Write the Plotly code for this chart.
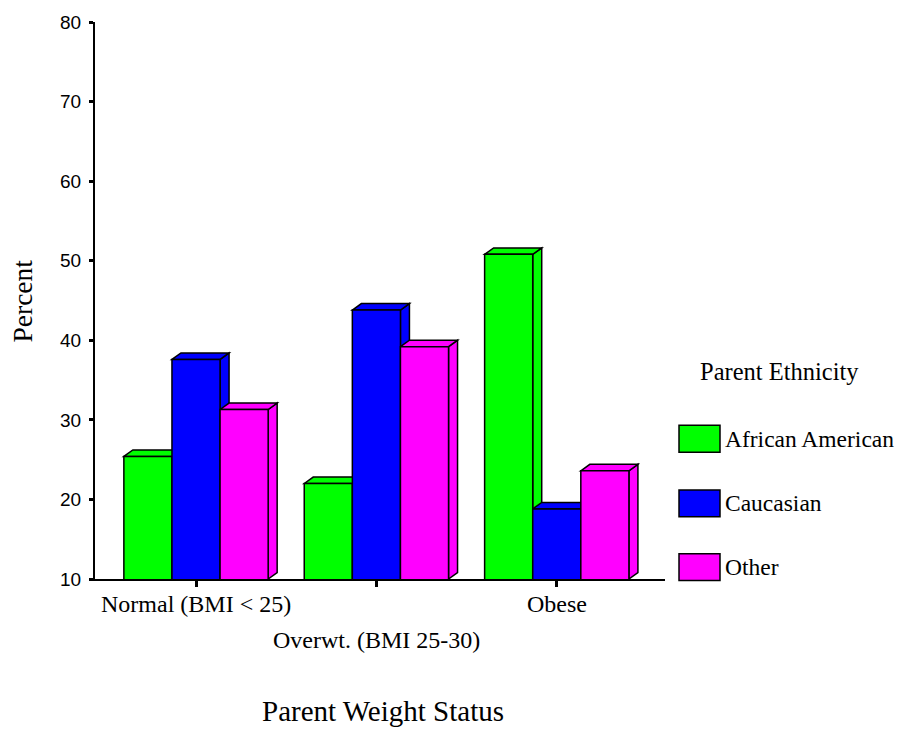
import plotly.graph_objects as go

# Parent weight status by parent ethnicity (percent)
categories = ["Normal (BMI < 25)", "Overwt. (BMI 25-30)", "Obese"]
series_names = ["African American", "Caucasian", "Other"]
african_american = [25.4, 22.0, 50.8]
caucasian = [37.6, 43.8, 18.8]
other = [31.3, 39.2, 23.6]
y_ticks = [10, 20, 30, 40, 50, 60, 70, 80]

series_values = [african_american, caucasian, other]
colors = ["#00FF00", "#0000FF", "#FF00FF"]

SERIF = "Liberation Serif, Times New Roman, serif"
SANS = "Liberation Sans, Arial, sans-serif"

W, H = 897, 729
ML, MR, MT, MB = 95, 232, 19, 150
X_RANGE = [-0.56, 2.6]
Y_RANGE = [10, 80]
BARGAP = 0.2
n_series = len(series_names)
bar_w = (1 - BARGAP) / n_series

# pseudo-3D depth of each bar, in data units
plot_w = W - ML - MR
plot_h = H - MT - MB
DX = 9 / (plot_w / (X_RANGE[1] - X_RANGE[0]))
DY = 6.5 / (plot_h / (Y_RANGE[1] - Y_RANGE[0]))


def px_to_paper(px, py):
    return (px - ML) / plot_w, (H - MB - py) / plot_h


fig = go.Figure()
xs = list(range(len(categories)))
for name, vals, col in zip(series_names, series_values, colors):
    fig.add_trace(go.Bar(
        x=xs, y=vals, name=name,
        marker=dict(color=col, line=dict(color="black", width=1.5)),
        showlegend=False, hoverinfo="skip",
    ))

# side and top faces, drawn left to right beneath the front faces
shapes = []
base = Y_RANGE[0]
for i in xs:
    for k, (vals, col) in enumerate(zip(series_values, colors)):
        v = vals[i]
        xl = i - (1 - BARGAP) / 2 + k * bar_w
        xr = xl + bar_w
        side = (f"M {xr},{base} L {xr},{v} L {xr + DX},{v + DY} "
                f"L {xr + DX},{base + DY} Z")
        top = (f"M {xl},{v} L {xl + DX},{v + DY} L {xr + DX},{v + DY} "
               f"L {xr},{v} Z")
        for p in (side, top):
            shapes.append(dict(type="path", path=p, xref="x", yref="y",
                               fillcolor=col, layer="below",
                               line=dict(color="black", width=1.5)))

# legend swatches
annotations = []
legend_rows = [438, 503, 567]
for name, col, cy in zip(series_names, colors, legend_rows):
    x0, y0 = px_to_paper(679, cy + 13.5)
    x1, y1 = px_to_paper(720, cy - 13.5)
    shapes.append(dict(type="rect", xref="paper", yref="paper",
                       x0=x0, y0=y0, x1=x1, y1=y1, fillcolor=col,
                       line=dict(color="black", width=1.5), layer="above"))
    tx, ty = px_to_paper(723, cy)
    annotations.append(dict(text=name, xref="paper", yref="paper", x=tx, y=ty,
                            xanchor="left", yanchor="middle", showarrow=False,
                            font=dict(family=SERIF, size=23.5, color="black")))

tx, ty = px_to_paper(698, 370)
annotations.append(dict(text="Parent Ethnicity", xref="paper", yref="paper",
                        x=tx, y=ty, xanchor="left", yanchor="middle", showarrow=False,
                        font=dict(family=SERIF, size=24.5, color="black")))

# category labels, the middle one set on a lower row
label_shift = [-25, -61, -25]
for i, (cat, sh) in enumerate(zip(categories, label_shift)):
    annotations.append(dict(text=cat, xref="x", yref="paper", x=i, y=0,
                            yshift=sh, xanchor="center", yanchor="middle",
                            showarrow=False,
                            font=dict(family=SERIF, size=24, color="black")))

tx, ty = px_to_paper(383, 712)
annotations.append(dict(text="Parent Weight Status", xref="paper", yref="paper",
                        x=tx, y=ty, xanchor="center", yanchor="middle", showarrow=False,
                        font=dict(family=SERIF, size=29, color="black")))
tx, ty = px_to_paper(22, 300)
annotations.append(dict(text="Percent", xref="paper", yref="paper",
                        x=tx, y=ty, xanchor="center", yanchor="middle", textangle=-90,
                        showarrow=False,
                        font=dict(family=SERIF, size=27.5, color="black")))

fig.update_layout(
    width=W, height=H, autosize=False,
    margin=dict(l=ML, r=MR, t=MT, b=MB, pad=0),
    paper_bgcolor="white", plot_bgcolor="white",
    barmode="group", bargap=BARGAP, bargroupgap=0,
    shapes=shapes, annotations=annotations, showlegend=False,
    xaxis=dict(range=X_RANGE, tickvals=xs, showticklabels=False,
               ticks="outside", ticklen=6, tickwidth=3, tickcolor="black",
               showline=True, linecolor="black", linewidth=1.5,
               showgrid=False, zeroline=False, fixedrange=True),
    yaxis=dict(range=Y_RANGE, tickvals=y_ticks,
               ticks="outside", ticklen=4, tickwidth=3, tickcolor="black",
               showline=True, linecolor="black", linewidth=2,
               showgrid=False, zeroline=False,
               tickfont=dict(family=SANS, size=19, color="black"),
               ticklabelstandoff=4),
)

fig.write_html("out.html")
